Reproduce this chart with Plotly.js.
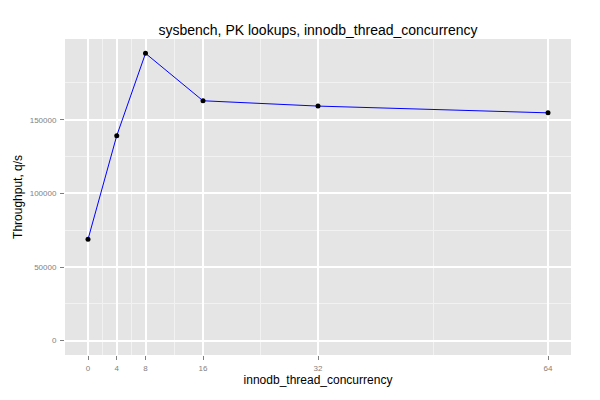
<!DOCTYPE html>
<html>
<head>
<meta charset="utf-8">
<script src="https://cdn.plot.ly/plotly-3.0.1.min.js"></script>
<style>html,body{margin:0;padding:0;background:#fff;}#chart{width:600px;height:400px;}</style>
</head>
<body>
<div id="chart"></div>
<script>
const concurrency = [0, 4, 8, 16, 32, 64];
const throughput = [68800, 139200, 195100, 162900, 159300, 154700];
const xTicks = [0, 4, 8, 16, 32, 64];
const yTicks = [0, 50000, 100000, 150000];
const yTickLabels = ['0', '50000', '100000', '150000'];

const xMinor = [];
for (let i = 0; i < xTicks.length - 1; i++) xMinor.push((xTicks[i] + xTicks[i + 1]) / 2);
const yMinor = [];
for (let i = 0; i < yTicks.length; i++) yMinor.push(yTicks[i] + 25000);

const xmin = Math.min(...concurrency), xmax = Math.max(...concurrency);
const xpad = (xmax - xmin) * 0.05;
const ymax = Math.max(...throughput);
const ypad = ymax * 0.05;

const trace = {
  x: concurrency, y: throughput, type: 'scatter', mode: 'lines+markers',
  line: {color: '#0000ff', width: 1},
  marker: {color: '#000000', size: 5},
  hoverinfo: 'none'
};

const axisCommon = {
  showgrid: true, gridcolor: '#ffffff', gridwidth: 2,
  zeroline: false, showline: false,
  ticks: 'outside', ticklen: 4, tickcolor: '#7f7f7f', tickwidth: 1,
  tickfont: {family: 'Liberation Sans, Arial, sans-serif', size: 8, color: '#7f7f7f'}
};

const layout = {
  width: 600, height: 400,
  margin: {l: 65, r: 29, t: 39, b: 45},
  paper_bgcolor: '#ffffff', plot_bgcolor: '#e5e5e5',
  showlegend: false,
  title: {text: 'sysbench, PK lookups, innodb_thread_concurrency',
    font: {family: 'Liberation Sans, Arial, sans-serif', size: 14, color: '#000000'},
    x: 0.5, xref: 'paper', y: 0.925, yref: 'container', xanchor: 'center', yanchor: 'middle'},
  xaxis: Object.assign({}, axisCommon, {
    range: [xmin - xpad, xmax + xpad],
    tickmode: 'array', tickvals: xTicks, ticktext: xTicks.map(String),
    ticklabelstandoff: 1,
    minor: {tickmode: 'array', tickvals: xMinor, showgrid: true, gridcolor: '#f2f2f2', gridwidth: 1, ticks: ''},
    title: {text: 'innodb_thread_concurrency', standoff: 4,
      font: {family: 'Liberation Sans, Arial, sans-serif', size: 12, color: '#000000'}}
  }),
  yaxis: Object.assign({}, axisCommon, {
    range: [-ypad, ymax + ypad],
    tickmode: 'array', tickvals: yTicks, ticktext: yTickLabels,
    ticklabelstandoff: 2,
    minor: {tickmode: 'array', tickvals: yMinor, showgrid: true, gridcolor: '#f2f2f2', gridwidth: 1, ticks: ''}
  }),
  annotations: [{
    text: 'Throughput, q/s', textangle: -90, showarrow: false,
    xref: 'paper', yref: 'paper', x: -0.093, y: 0.5, xanchor: 'center', yanchor: 'middle',
    font: {family: 'Liberation Sans, Arial, sans-serif', size: 12, color: '#000000'}
  }]
};

Plotly.newPlot('chart', [trace], layout, {displayModeBar: false, staticPlot: true});
</script>
</body>
</html>
